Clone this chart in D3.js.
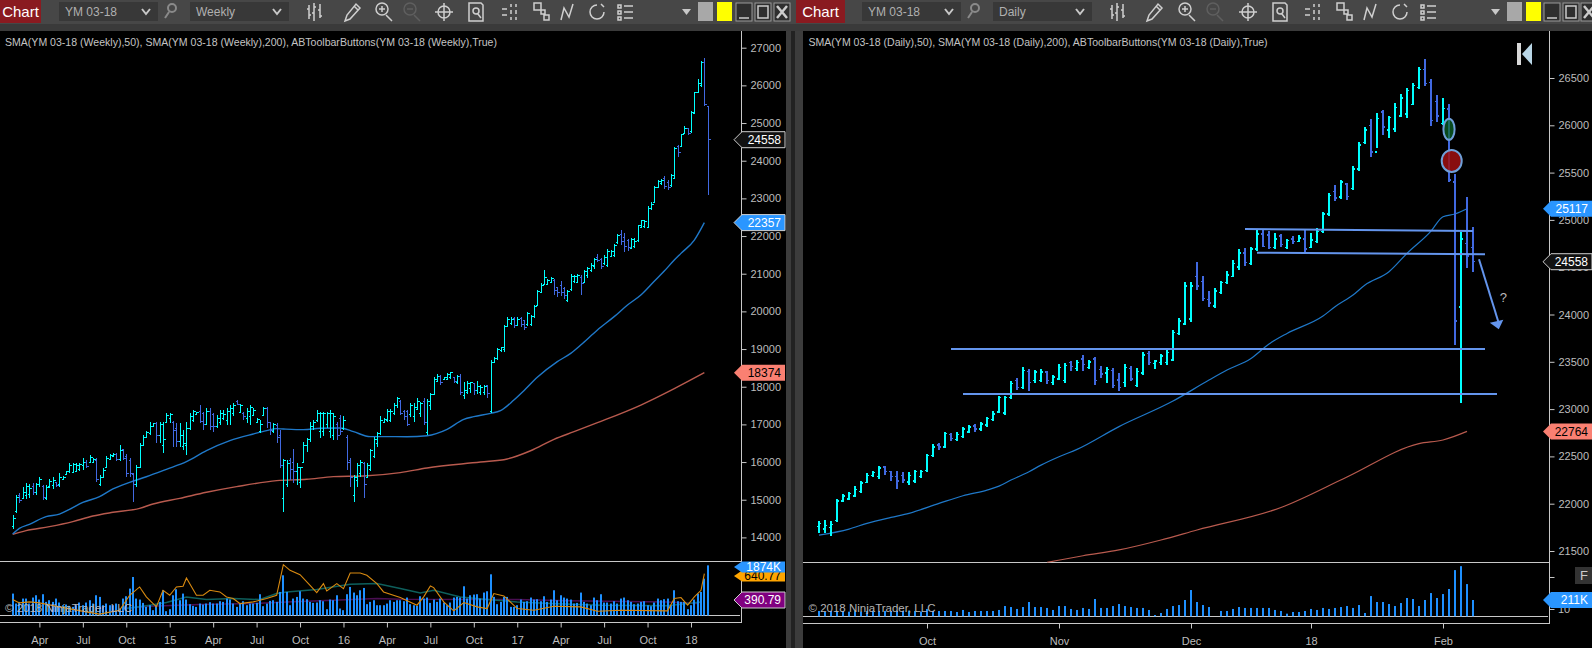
<!DOCTYPE html>
<html>
<head>
<meta charset="utf-8">
<script src="https://cdn.jsdelivr.net/npm/d3@7/dist/d3.min.js"></script>
<style>
html, body { margin: 0; padding: 0; background: #000; overflow: hidden; }
text { font-family: "Liberation Sans", Arial, sans-serif; }
.axis text { fill: #bdbdbd; font-size: 11px; font-family: "Liberation Sans", Arial, sans-serif; }
.axis line { stroke: #c8c8c8; }
</style>
</head>
<body>
<svg width="1592" height="648"></svg>
<script>
// weekly pane, YM 03-18
const weekHigh = [14595,15126,15170,15347,15453,15418,15436,15453,15595,15391,15391,15542,15595,15480,15719,15630,15770,15980,15970,15980,15970,16100,16060,16180,16100,16100,15660,15830,16160,16210,16250,16250,16440,16360,16210,16100,15700,15920,16500,16720,16830,17070,17050,17070,17070,17070,17290,17290,17100,17030,17050,16850,17070,17290,17380,17340,17510,17340,17430,17430,17290,17250,17380,17380,17430,17510,17580,17650,17540,17340,17430,17510,17430,17160,17120,17470,17470,17070,17030,17030,16850,16070,16050,16100,16340,15970,15880,16540,16630,17070,17120,17380,17340,17340,17340,17380,17290,17070,17250,17210,16720,16100,15660,15970,16060,16010,15970,16360,16670,16810,17210,17160,17400,17400,17560,17740,17650,17380,17380,17576,17560,17690,17600,17690,17665,17840,18250,18340,18310,18270,18355,18400,18270,18310,18340,18130,18160,18130,18110,18160,18045,18045,18045,18710,18800,19020,19060,19640,19840,19840,19840,19840,19840,19770,19990,19900,20170,20570,20745,21100,20850,20920,20850,20655,20805,20655,20570,20990,20965,20990,20965,21100,21185,21275,21410,21515,21410,21495,21645,21630,21790,22055,22160,22070,21910,21940,21940,22295,22425,22425,22797,22894,23337,23487,23505,23593,23487,23646,24354,24416,24708,24921,24859,25319,25832,26160,26646,26717,25460];
const weekLow = [14223,14639,14922,15011,15011,15037,15126,15126,15347,14993,14993,15303,15285,15329,15347,15524,15660,15720,15700,15750,15770,15790,15830,15980,15970,15480,15360,15570,15830,16070,16130,16040,16040,16060,15610,15610,14950,15350,15830,16430,16630,16720,16940,16500,16500,16230,17030,17050,16410,16410,16410,16320,16190,16850,17070,17250,17030,16850,16980,16850,16810,16900,16980,17120,16980,16980,17210,17510,17290,17120,17030,16980,17210,17030,16760,17210,16900,16720,16760,16500,15830,14680,15350,15520,15440,15390,15300,15970,16280,16540,16850,17070,16630,16680,16900,16630,16590,16590,16720,16850,15790,15350,14950,15350,15610,15040,15570,15750,16100,16410,16720,17030,17070,17070,17250,17430,17250,17120,16965,17205,17070,17380,17205,16980,16720,17380,17780,18130,18045,18180,18195,18195,18090,18070,17780,17665,17810,17825,17780,17810,17780,17780,17690,17295,18620,18710,18930,18930,19595,19640,19570,19610,19595,19505,19610,19610,19830,20140,20480,20700,20700,20745,20435,20370,20410,20320,20260,20550,20745,20745,20435,20745,20875,21055,21115,21300,21125,21230,21185,21435,21450,21790,21760,21585,21610,21645,21675,21850,22204,22204,22204,22690,22868,23266,23354,23240,23221,23310,23505,24106,24354,24708,24682,24744,25230,25788,25965,25460,23089];
const weekOpen = [14300,14680,15110,15020,15100,15150,15350,15200,15400,15350,15040,15340,15370,15450,15400,15540,15670,15740,15730,15760,15790,15900,16000,16000,15980,16050,15400,15600,15850,16080,16150,16200,16060,16340,16150,16050,15680,15400,15850,16450,16650,16750,16950,17030,16700,16450,17050,17150,17050,16900,16550,16400,16450,16900,17100,17270,17350,17300,17000,17350,17250,16950,17050,17150,17100,17350,17300,17600,17320,17300,17150,17200,17230,17050,16800,17230,17420,17050,16800,16980,16700,15020,15400,16050,16000,15750,15450,15990,16450,16600,16950,17100,16800,16800,17000,16800,16700,17000,17150,16900,16650,16050,15100,15500,15700,15950,15600,15800,16150,16500,16750,17050,17100,17100,17300,17500,17600,17350,17330,17250,17200,17400,17300,17600,16780,17500,17800,18150,18280,18190,18200,18250,18250,18100,18280,17780,17850,17950,18090,17900,17850,17850,18030,17350,18650,18750,18950,18980,19610,19680,19800,19630,19800,19750,19640,19640,19870,20160,20510,20720,20720,20770,20830,20640,20700,20600,20300,20570,20800,20780,20900,20770,20950,21080,21180,21420,21380,21270,21230,21450,21480,21820,22050,21950,21880,21680,21720,21880,22230,22260,22230,22720,22900,23300,23400,23520,23430,23340,23530,24380,24380,24730,24850,24770,25260,25820,26000,26620,25440];
const weekClose = [14500,15050,14980,15200,15350,15300,15200,15400,15530,15050,15330,15480,15500,15370,15600,15600,15750,15900,15930,15900,15940,16000,15880,16130,16080,15550,15600,15780,16100,16170,16200,16060,16300,16100,15700,15700,15400,15850,16430,16650,16780,16950,17030,16700,17000,16600,17230,17250,16850,16550,16700,16500,16900,17220,17330,17320,17080,17000,17350,16950,16950,17150,17300,17260,17350,17420,17490,17540,17500,17200,17350,17450,17380,17140,17000,17420,17050,16850,16990,16650,15900,16040,15950,15800,15750,15850,15850,16450,16600,16950,17050,17300,17300,17280,17300,17280,17200,16700,16800,17100,16000,15600,15600,15900,16000,15400,15900,16300,16600,16750,17100,17130,17350,17350,17500,17680,17300,17200,17000,17500,17450,17620,17550,17050,17620,17800,18200,18280,18120,18250,18320,18380,18150,18280,17850,17900,18080,18100,17900,18000,17980,18000,17820,18650,18750,18980,19040,19600,19780,19790,19620,19780,19650,19560,19950,19870,20130,20530,20700,20900,20830,20860,20550,20500,20500,20420,20530,20920,20920,20950,20730,21050,21150,21230,21380,21350,21200,21420,21600,21590,21750,22020,21850,21720,21700,21900,21860,22280,22400,22390,22740,22850,23300,23450,23470,23320,23280,23600,24320,24230,24690,24860,24720,25290,25800,26060,26600,25480,24558];
const weekVolume = [818,446,508,632,632,446,670,756,595,794,508,570,508,632,484,384,409,360,322,384,484,384,484,570,446,756,694,384,446,384,384,446,260,632,719,1004,1438,632,595,471,322,384,198,384,508,942,161,236,756,980,570,818,595,422,360,322,446,409,446,496,446,446,533,508,632,595,446,322,446,533,384,446,446,471,794,347,446,546,570,508,880,1500,880,384,632,694,905,632,608,508,471,484,570,533,236,595,570,756,260,198,794,1066,856,756,942,1029,422,508,570,384,384,384,446,570,508,570,570,533,670,422,384,360,719,632,670,471,595,508,632,484,384,484,670,694,670,1091,632,756,781,794,632,856,905,1538,694,422,508,694,694,322,322,384,595,508,533,670,595,608,533,719,508,595,942,570,756,670,632,595,446,471,856,508,446,384,670,570,794,484,484,446,533,446,632,670,570,508,422,446,508,533,384,347,484,632,570,608,632,384,942,533,508,508,236,384,595,818,880,1376,1872];
const weekSma50Idx = [0,2,5,10,14,17,21,26,30,35,40,46,52,58,65,72,76,79,81,87,92,98,102,107,111,118,124,130,135,138,143,146,150,153,157,163,167,170,175,180,184,188,192,195,198,200,204,207];
const weekSma50 = [14090,14240,14347,14550,14620,14745,14930,15080,15285,15460,15610,15807,16010,16303,16568,16745,16834,16887,16878,16860,16896,16905,16807,16675,16675,16673,16700,16868,17134,17205,17293,17364,17647,17895,18249,18665,18886,19107,19506,19860,20169,20435,20800,21070,21363,21540,21894,22357];
const weekSma200Idx = [0,4,11,18,24,30,38,42,50,58,67,79,88,96,105,116,124,140,148,155,162,168,175,188,198,207];
const weekSma200 = [14080,14180,14285,14418,14568,14666,14772,14887,15037,15197,15347,15506,15542,15613,15630,15719,15843,16000,16082,16300,16603,16806,17045,17514,17950,18374];
const weekOrangeIdx = [0,2,5,8,14,22,26,32,35,38,40,43,45,47,49,51,52,55,57,59,62,64,66,68,72,76,79,81,83,86,89,91,93,94,97,99,101,104,106,109,111,116,121,123,125,126,129,132,135,139,142,144,147,151,156,162,170,175,182,196,198,200,202,204,206,207];
const weekOrange = [595,471,508,471,322,136,50,198,756,1066,694,322,942,756,1066,1091,1401,756,756,942,880,694,632,446,508,632,756,1897,1686,1525,1128,856,1190,918,1190,1004,1587,1587,1500,1190,880,670,384,694,1104,1042,508,174,484,322,260,818,732,260,198,347,322,161,198,174,632,670,384,694,942,1562];
const weekTealIdx = [34,41,46,52,58,66,74,79,82,91,101,109,116,122,126,134,142,151,161,176,196,206];
const weekTeal = [260,384,484,694,595,632,595,818,880,967,1166,1190,1004,843,942,694,595,508,446,384,360,508];
const weekPurpleIdx = [33,41,56,72,82,96,109,116,151,166,196,205];
const weekPurple = [260,347,409,446,508,570,632,608,595,546,508,446];
const weekPriceTicks = [14000,15000,16000,17000,18000,19000,20000,21000,22000,23000,24000,25000,26000,27000];
const weekDateTicks = [8,21,34,47,60,73,86,99,112,125,138,151,164,177,190,203];
const weekDateLabels = ['Apr','Jul','Oct','15','Apr','Jul','Oct','16','Apr','Jul','Oct','17','Apr','Jul','Oct','18'];

// daily pane, YM 03-18
const dayHigh = [21816,21824,21816,22046,22098,22123,22186,22236,22320,22345,22398,22398,22345,22345,22335,22335,22356,22356,22521,22630,22641,22757,22743,22757,22810,22831,22842,22863,22916,22979,23138,23138,23293,23328,23441,23423,23413,23423,23402,23360,23476,23487,23508,23518,23571,23518,23550,23455,23444,23434,23381,23476,23455,23434,23603,23614,23518,23582,23624,23836,23962,24343,24343,24554,24406,24248,24280,24354,24459,24576,24692,24702,24713,24903,24903,24882,24861,24850,24798,24829,24840,24893,24861,24914,25083,25284,25368,25421,25390,25569,25823,25978,26063,26126,26162,26098,26232,26327,26391,26444,26613,26697,26486,26320,26285,26225,25482,24875,25238,24928];
const dayLow = [21693,21693,21661,21809,22014,22038,22067,22116,22215,22285,22264,22306,22243,22158,22222,22201,22222,22271,22338,22490,22567,22592,22662,22666,22697,22750,22761,22771,22814,22877,22955,22941,23103,23201,23215,23194,23279,23286,23265,23258,23307,23279,23402,23402,23402,23423,23254,23328,23275,23222,23191,23233,23296,23233,23360,23466,23423,23466,23466,23508,23783,23888,23920,24258,24142,24079,24068,24216,24322,24396,24470,24512,24523,24671,24713,24692,24692,24713,24692,24745,24766,24650,24702,24755,24861,25041,25199,25220,25210,25316,25516,25802,25668,25763,25897,25869,25933,26091,26081,26215,26380,26415,25996,26038,26003,25404,23678,23068,24488,24453];
const dayOpen = [21760,21730,21750,21820,22030,22050,22080,22130,22225,22300,22290,22390,22340,22290,22300,22230,22240,22290,22350,22510,22620,22600,22730,22680,22710,22760,22820,22790,22830,22890,22970,22960,23120,23300,23230,23400,23300,23300,23390,23280,23320,23300,23490,23430,23530,23440,23530,23420,23380,23410,23310,23280,23430,23250,23380,23590,23480,23490,23490,23520,23800,23900,23950,24400,24350,24160,24090,24230,24340,24400,24500,24650,24540,24690,24850,24840,24710,24830,24710,24800,24770,24800,24710,24770,24880,25060,25300,25240,25380,25330,25540,25820,26000,25720,26140,25950,25960,26100,26120,26220,26400,26590,26450,26250,26020,26170,25400,24080,24750,24710];
const dayClose = [21790,21770,21780,22030,22080,22110,22150,22220,22300,22330,22380,22340,22290,22240,22250,22300,22340,22340,22510,22600,22600,22740,22690,22730,22790,22810,22790,22840,22900,22950,23120,23120,23270,23230,23410,23280,23390,23390,23300,23340,23440,23460,23450,23490,23470,23500,23300,23370,23420,23250,23230,23440,23320,23400,23570,23490,23510,23560,23600,23810,23930,24300,24300,24300,24170,24120,24250,24340,24420,24540,24650,24550,24690,24850,24720,24710,24800,24740,24780,24770,24810,24690,24790,24880,25060,25260,25230,25400,25250,25540,25790,25950,25720,26070,25980,26080,26190,26290,26370,26420,26590,26440,26050,26100,26180,25420,23930,24800,24620,24558];
const dayVolume = [69,60,69,69,69,60,69,60,69,69,69,69,69,69,69,73,69,60,95,69,69,69,69,56,82,56,69,69,69,69,82,133,120,95,120,185,120,120,108,82,133,133,95,82,108,95,224,108,108,133,159,133,120,108,108,82,17,43,95,133,146,211,340,185,146,120,0,69,69,95,120,108,108,108,108,108,82,69,34,56,56,69,95,82,108,95,108,120,133,108,146,43,262,185,185,159,133,172,237,224,133,211,301,237,288,353,598,649,417,211];
const daySma50Idx = [0,5,8,12,15,20,24,28,30,32,35,37,40,43,50,59,65,68,72,75,78,84,86,89,91,95,98,102,104,106,108];
const daySma50 = [21668,21732,21792,21855,21898,22003,22084,22144,22186,22250,22338,22408,22497,22574,22815,23085,23307,23413,23536,23688,23800,23984,24082,24206,24312,24452,24646,24882,25034,25062,25117];
const daySma200Idx = [38,44,50,57,63,77,88,100,104,108];
const daySma200 = [21380,21450,21511,21616,21722,21960,22282,22635,22673,22764];
const dayPriceTicks = [21500,22000,22500,23000,23500,24000,24500,25000,25500,26000,26500];
const dayDateTicks = [18,40,62,82,104];
const dayDateLabels = ['Oct','Nov','Dec','18','Feb'];
// hand drawn levels on the daily chart: [from bar, to bar, price at start, price at end]
const dayLevels = [[71,109,24904,24883],[73,111,24653,24636],[22,111,23635,23635],[24,113,23160,23160]];
const dayArrow = [110,113.3,24584,23844];

const cyan = '#00ffff', royal = '#4169e1', volBlue = '#1e90ff', trend = '#6495ed';
const smaBlue = '#1f78c8', smaRed = '#b85a4e', gridGrey = '#c8c8c8';

const svg = d3.select('svg');
svg.append('rect').attr('width', 1592).attr('height', 648).attr('fill', '#000');

const drawBars = (g, x, y, o, h, l, c, sw, tick) => {
    o.forEach((_, i) => {
        const col = c[i] >= o[i] ? cyan : royal;
        const px = Math.round(x(i)) + (sw % 2 ? 0.5 : 0);
        const bar = g.append('g').attr('stroke', col).attr('shape-rendering', 'crispEdges');
        bar.append('line').attr('x1', px).attr('x2', px).attr('y1', y(h[i])).attr('y2', y(l[i])).attr('stroke-width', sw);
        bar.append('line').attr('x1', px - tick).attr('x2', px).attr('y1', y(o[i])).attr('y2', y(o[i])).attr('stroke-width', sw === 1 ? 1 : 1.5);
        bar.append('line').attr('x1', px).attr('x2', px + tick).attr('y1', y(c[i])).attr('y2', y(c[i])).attr('stroke-width', sw === 1 ? 1 : 1.5);
    });
};

const drawLine = (g, x, y, idx, vals, col, sw, curve) => {
    const line = d3.line().x((_, i) => x(idx[i])).y(d => y(d)).curve(curve || d3.curveLinear);
    g.append('path').datum(vals).attr('d', line).attr('fill', 'none').attr('stroke', col).attr('stroke-width', sw);
};

const drawVolume = (g, x, y, vals, w) => {
    g.selectAll('rect.vol').data(vals).enter().append('rect')
        .attr('class', 'vol')
        .attr('x', (_, i) => Math.round(x(i)) - w / 2)
        .attr('width', w)
        .attr('y', d => y(d))
        .attr('height', d => y(0) - y(d))
        .attr('fill', volBlue);
};

const drawTag = (cy, h, tip, right, label, fill, textCol, stroke) => {
    const body = tip + 8;
    svg.append('path')
        .attr('d', `M${tip} ${cy}L${body} ${cy - h / 2}H${right}V${cy + h / 2}H${body}Z`)
        .attr('fill', fill)
        .attr('stroke', stroke || 'none');
    svg.append('text')
        .attr('x', right - 4).attr('y', cy + 4.2)
        .attr('text-anchor', 'end')
        .attr('font-size', 12)
        .attr('fill', textCol)
        .text(label);
};

const iconPaths = {
    bars: 'M-6 -7V7M-1 -9V9M5 -8V6M-8 -3H-6M-6 3H-4M-3 1H-1M-1 -5H1M3 -2H5M5 4H7',
    pencil: 'M-7 9L-5 3L4 -8L8 -4L-2 7ZM2 -6L6 -2',
    zoomIn: 'M-7 -3a6 6 0 1 0 12 0a6 6 0 1 0 -12 0M3 3L9 9M-4 -3H2M-1 -6V0',
    zoomOut: 'M-7 -3a6 6 0 1 0 12 0a6 6 0 1 0 -12 0M3 3L9 9M-4 -3H2',
    cross: 'M-6 0a6 6 0 1 0 12 0a6 6 0 1 0 -12 0M-9 0H9M0 -9V9',
    doc: 'M-7 -9H5L7 -7V9H-7ZM-3 -1a3 3 0 1 0 6 0a3 3 0 1 0 -6 0M2 2L5 6',
    dots: 'M-8 -3H-3M-8 3H-3M1 -8V-5M1 -2V2M1 5V8M6 -8V-5M6 -2V2M6 5V8',
    squares: 'M-7 -9H0V-2H-7ZM0 -2H4V2H0ZM3 3H8V8H3Z',
    nodes: 'M-6 8L-3 -4L2 5L6 -8',
    ring: 'M0 -7a7 7 0 1 0 7 7M4 -8l3 3',
    list: 'M-7 -7H-4V-4H-7ZM-7 -1H-4V2H-7ZM-7 5H-4V8H-7ZM-1 -6H8M-1 0H8M-1 6H8'
};
const iconOrder = ['bars','pencil','zoomIn','zoomOut','cross','doc','dots','squares','nodes','ring','list'];

const drawToolbar = (t) => {
    const g = svg.append('g');
    g.append('rect').attr('x', t.x0).attr('y', 0).attr('width', t.x1 - t.x0).attr('height', 24).attr('fill', '#474747');
    g.append('rect').attr('x', t.x0).attr('y', 24).attr('width', t.x1 - t.x0).attr('height', 7).attr('fill', '#3a3a3a');
    g.append('rect').attr('x', t.chart[0]).attr('y', 0).attr('width', t.chart[1] - t.chart[0]).attr('height', 23).attr('fill', '#8a1a20');
    g.append('text').attr('x', (t.chart[0] + t.chart[1]) / 2).attr('y', 17).attr('text-anchor', 'middle').attr('font-size', 15).attr('fill', '#fff').text('Chart');
    [[t.sym, t.symbol], [t.per, t.period]].forEach(([b, label]) => {
        g.append('rect').attr('x', b[0]).attr('y', 2).attr('width', b[1] - b[0]).attr('height', 19).attr('fill', '#383838');
        g.append('text').attr('x', b[0] + 6).attr('y', 16).attr('font-size', 12).attr('fill', '#b0b0b0').text(label);
        g.append('path').attr('d', `M${b[1] - 16} 9l4 5l4 -5`).attr('fill', 'none').attr('stroke', '#c8c8c8').attr('stroke-width', 2);
    });
    g.append('path').attr('d', `M${t.search - 2} 8a4 4 0 1 0 8 0a4 4 0 1 0 -8 0M${t.search - 1} 12L${t.search - 5} 18`)
        .attr('fill', 'none').attr('stroke', '#8a8a8a').attr('stroke-width', 2);
    iconOrder.forEach((name, i) => {
        g.append('path').attr('transform', `translate(${t.icons[i]},12)`)
            .attr('d', iconPaths[name]).attr('fill', 'none')
            .attr('stroke', name === 'zoomOut' ? '#5f5f5f' : '#cfcfcf')
            .attr('stroke-width', 1.5);
    });
    g.append('path').attr('d', `M${t.tri - 4} 9h9l-4.5 6z`).attr('fill', '#c8c8c8');
    g.append('rect').attr('x', t.grey).attr('y', 2).attr('width', 15).attr('height', 19).attr('fill', '#a8a8a8');
    g.append('rect').attr('x', t.grey + 19).attr('y', 2).attr('width', 15).attr('height', 19).attr('fill', '#ffff00');
    t.win.forEach((wx, i) => {
        g.append('rect').attr('x', wx - 8).attr('y', 3).attr('width', 16).attr('height', 18).attr('fill', '#2f2f2f').attr('stroke', '#999');
        g.append('path').attr('transform', `translate(${wx},12)`)
            .attr('d', ['M-5 6H5', 'M-5 -6H5V6H-5Z', 'M-5 -6L5 6M5 -6L-5 6'][i])
            .attr('fill', 'none').attr('stroke', '#ccc').attr('stroke-width', i === 2 ? 2.5 : 1.5);
    });
};

const drawPaneFrame = (p) => {
    svg.append('rect').attr('x', p.left).attr('y', 31).attr('width', p.right - p.left).attr('height', 617).attr('fill', '#000');
    svg.append('text').attr('x', p.legendX).attr('y', 46).attr('font-size', p.legendSize).attr('fill', '#c4c4c4').text(p.legend);
    const g = svg.append('g').attr('stroke', gridGrey).attr('shape-rendering', 'crispEdges');
    g.append('line').attr('x1', p.axisX).attr('x2', p.axisX).attr('y1', 31).attr('y2', p.bottom);
    g.append('line').attr('x1', p.left).attr('x2', p.axisX).attr('y1', p.volTop).attr('y2', p.volTop);
    g.append('line').attr('x1', p.left).attr('x2', p.axisX).attr('y1', p.bottom).attr('y2', p.bottom);
    g.append('line').attr('x1', p.left).attr('x2', p.axisX - 2).attr('y1', p.base).attr('y2', p.base);
};

const drawAxes = (p, x, y, priceTicks, dateTicks, dateLabels) => {
    const yAxis = svg.append('g').attr('class', 'axis').attr('transform', `translate(${p.axisX},0)`)
        .call(d3.axisRight(y).tickValues(priceTicks).tickFormat(d3.format('d')).tickSize(5).tickPadding(4));
    yAxis.selectAll('.domain').remove();
    const xAxis = svg.append('g').attr('class', 'axis').attr('transform', `translate(0,${p.bottom})`)
        .call(d3.axisBottom(x).tickValues(dateTicks).tickFormat((_, i) => dateLabels[i]).tickSize(5).tickPadding(9));
    xAxis.selectAll('.domain').remove();
};

// ---- weekly ----
const left = { left: 0, right: 786, axisX: 741.5, volTop: 561.5, base: 615.5, bottom: 622.5, legendX: 5, legendSize: 10.55,
    legend: 'SMA(YM 03-18 (Weekly),50), SMA(YM 03-18 (Weekly),200), ABToolbarButtons(YM 03-18 (Weekly),True)' };
const right = { left: 803, right: 1592, axisX: 1549.5, volTop: 562.5, base: 616.5, bottom: 623.5, legendX: 808.5, legendSize: 10.55,
    legend: 'SMA(YM 03-18 (Daily),50), SMA(YM 03-18 (Daily),200), ABToolbarButtons(YM 03-18 (Daily),True)' };

svg.append('rect').attr('x', 786).attr('y', 0).attr('width', 17).attr('height', 648).attr('fill', '#3c3c3c');
svg.append('rect').attr('x', 791).attr('y', 31).attr('width', 4).attr('height', 617).attr('fill', '#222');

drawToolbar({ x0: 0, x1: 795, chart: [0, 41], sym: [59, 158], per: [190, 289], symbol: 'YM 03-18', period: 'Weekly', search: 170,
    icons: [315,352,383,411,444,476,510,541,567,597,625], tri: 686, grey: 698, win: [744,763,782] });
drawToolbar({ x0: 795, x1: 1592, chart: [796, 845], sym: [862, 961], per: [993, 1092], symbol: 'YM 03-18', period: 'Daily', search: 973,
    icons: [1118,1154,1186,1214,1248,1280,1313,1344,1370,1400,1428], tri: 1495, grey: 1507, win: [1552,1571,1589] });

drawPaneFrame(left);
drawPaneFrame(right);

const xWeek = d3.scaleLinear().domain([0, 208]).range([12.67, 707.7]);
const yWeek = d3.scaleLinear().domain([14000, 27000]).range([537.4, 47.7]);
const yWeekVol = d3.scaleLinear().domain([0, 1874]).range([615.5, 565.3]);

const weekG = svg.append('g');
drawLine(weekG, xWeek, yWeekVol, weekPurpleIdx, weekPurple, '#4a0f52', 1.5);
drawLine(weekG, xWeek, yWeekVol, weekTealIdx, weekTeal, '#0e5f5c', 1.5);
drawVolume(weekG, xWeek, yWeekVol, weekVolume, 2);
drawLine(weekG, xWeek, yWeekVol, weekOrangeIdx, weekOrange, '#d98a10', 1.1);
drawLine(weekG, xWeek, yWeek, weekSma200Idx, weekSma200, smaRed, 1.4, d3.curveMonotoneX);
drawLine(weekG, xWeek, yWeek, weekSma50Idx, weekSma50, smaBlue, 1.4, d3.curveMonotoneX);
drawBars(weekG, xWeek, yWeek, weekOpen, weekHigh, weekLow, weekClose, 1, 2);
drawAxes(left, xWeek, yWeek, weekPriceTicks, weekDateTicks, weekDateLabels);

svg.append('text').attr('x', 5).attr('y', 612).attr('font-size', 11.5).attr('fill', '#b4b4b4').text('© 2018 NinjaTrader, LLC');

// ---- daily ----
const xDay = d3.scaleLinear().domain([0, 109]).range([819, 1473]);
const yDay = d3.scaleLinear().domain([21500, 26500]).range([551, 78]);
const yDayVol = d3.scaleLinear().domain([0, 211]).range([616.3, 600]);

const dayClip = svg.append('clipPath').attr('id', 'dayClip');
dayClip.append('rect').attr('x', 803).attr('y', 31).attr('width', 746).attr('height', 531.5);

const dayG = svg.append('g').attr('clip-path', 'url(#dayClip)');
drawLine(dayG, xDay, yDay, daySma200Idx, daySma200, smaRed, 1.2, d3.curveMonotoneX);
drawLine(dayG, xDay, yDay, daySma50Idx, daySma50, smaBlue, 1.2, d3.curveMonotoneX);
drawBars(dayG, xDay, yDay, dayOpen, dayHigh, dayLow, dayClose, 2, 2);

dayLevels.forEach(l => {
    dayG.append('line')
        .attr('x1', xDay(l[0])).attr('x2', xDay(l[1]))
        .attr('y1', yDay(l[2])).attr('y2', yDay(l[3]))
        .attr('stroke', trend).attr('stroke-width', 2);
});

dayG.append('line')
    .attr('x1', xDay(dayArrow[0])).attr('y1', yDay(dayArrow[2]))
    .attr('x2', xDay(dayArrow[1])).attr('y2', yDay(dayArrow[3]) - 6)
    .attr('stroke', trend).attr('stroke-width', 2);
const ax = xDay(dayArrow[1]), ay = yDay(dayArrow[3]);
dayG.append('path').attr('d', `M${ax} ${ay}L${ax - 9} ${ay - 6.5}L${ax + 4.5} ${ay - 9.5}Z`).attr('fill', trend);
dayG.append('text').attr('x', ax + 1).attr('y', ay - 27).attr('font-size', 13).attr('fill', '#bbb').text('?');

dayG.append('ellipse').attr('cx', xDay(105)).attr('cy', yDay(25958)).attr('rx', 5.6).attr('ry', 10.6)
    .attr('fill', '#0d6a2a').attr('fill-opacity', 0.7).attr('stroke', '#6f9fd8').attr('stroke-width', 2);
dayG.append('ellipse').attr('cx', xDay(105.45)).attr('cy', yDay(25623)).attr('rx', 10).attr('ry', 11)
    .attr('fill', '#a00f10').attr('fill-opacity', 0.85).attr('stroke', '#6f9fd8').attr('stroke-width', 2);

drawVolume(svg.append('g'), xDay, yDayVol, dayVolume, 2);
drawAxes(right, xDay, yDay, dayPriceTicks, dayDateTicks, dayDateLabels);

svg.append('text').attr('x', 808.5).attr('y', 612).attr('font-size', 11.5).attr('fill', '#b4b4b4').text('© 2018 NinjaTrader, LLC');

// toolbar logo in the daily pane
svg.append('path').attr('d', 'M1517 43h4v22h-4Z').attr('fill', '#d8d8d8');
svg.append('path').attr('d', 'M1522 54L1532 43V65Z').attr('fill', '#b9d6e6');

// volume axis bits on the daily pane
svg.append('line').attr('x1', right.axisX).attr('x2', right.axisX + 5).attr('y1', 577.5).attr('y2', 577.5).attr('stroke', gridGrey);
svg.append('line').attr('x1', right.axisX).attr('x2', right.axisX + 5).attr('y1', 609.5).attr('y2', 609.5).attr('stroke', gridGrey);
svg.append('text').attr('x', 1558).attr('y', 613).attr('font-size', 11).attr('fill', '#bdbdbd').text('10');
svg.append('rect').attr('x', 1575).attr('y', 567).attr('width', 17).attr('height', 17).attr('fill', '#333');
svg.append('text').attr('x', 1580).attr('y', 580).attr('font-size', 13).attr('fill', '#ccc').text('F');

// price and value tags
drawTag(yWeek(24558), 16, 734, 785, '24558', '#111', '#fff', '#cfcfcf');
drawTag(yWeek(22357), 16, 734, 785, '22357', '#2a96ff', '#fff', '#cfcfcf');
drawTag(yWeek(18374), 16, 734, 785, '18374', '#fa8072', '#000');
drawTag(576, 11, 734, 785, '640.77', '#ffa500', '#000');
drawTag(567, 11, 734, 785, '1874K', '#2a96ff', '#fff');
drawTag(600, 16, 734, 785, '390.79', '#800080', '#fff', '#cfcfcf');

drawTag(yDay(25117), 16, 1543, 1592, '25117', '#2a96ff', '#fff');
drawTag(yDay(24558), 16, 1543, 1592, '24558', '#111', '#fff', '#cfcfcf');
drawTag(yDay(22764), 16, 1543, 1592, '22764', '#fa8072', '#000');
drawTag(yDayVol(211), 16, 1543, 1592, '211K', '#2a96ff', '#fff');
</script>
</body>
</html>
